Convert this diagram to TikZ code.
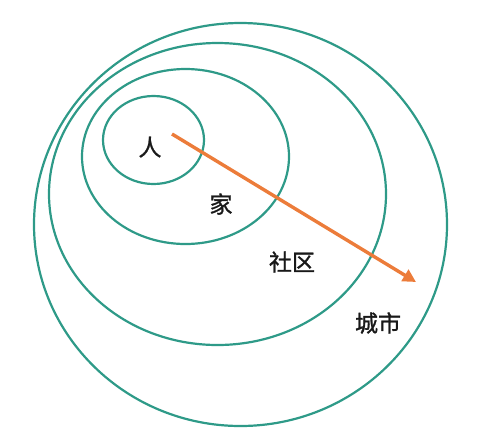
\documentclass[tikz,border=0pt]{standalone}
\usepackage{fontspec}
\setmainfont{Noto Sans CJK SC}
\newfontfamily\ringfont[FakeBold=1.2]{Noto Sans CJK SC}
\usepackage{xcolor}
\usetikzlibrary{arrows.meta, positioning}
\definecolor{ringteal}{HTML}{2E9A88}
\definecolor{arroworange}{HTML}{EC7C3A}

\begin{document}
\begin{tikzpicture}[
			x=1pt, y=-1pt,
			ring/.style={draw=ringteal, line width=2.2pt},
			ring text/.style={font=\ringfont\fontsize{23}{23}\selectfont, text=black!90, inner sep=0pt},
			growth arrow/.style={draw=arroworange, line width=3.4pt, -{Triangle[length=13pt, width=13pt]}}
			]
			\useasboundingbox (0,0) rectangle (500,440);
			
			% Rings from the city inwards
			\draw[ring] (240.5,224.5) ellipse [x radius=206.5, y radius=201.5];
			\draw[ring] (217.5,194) ellipse [x radius=168.5, y radius=151];
			\draw[ring] (185.5,156.5) ellipse [x radius=103.5, y radius=87.5];
			\draw[ring] (153.5,140) ellipse [x radius=50.5, y radius=44];
			
			% Labels
			\node[ring text] (person) at (150,147) {人};
			\node[ring text] (home) at (221,204) {家};
			\node[ring text] (community) at (292,262) {社区};
			\node[ring text] (city) at (378,323) {城市};
			
			% Arrow
			\coordinate (from) at (172,134);
			\coordinate (to) at (416,282);
			\draw[growth arrow] (from) -- (to);
			
		\end{tikzpicture}
\end{document}
